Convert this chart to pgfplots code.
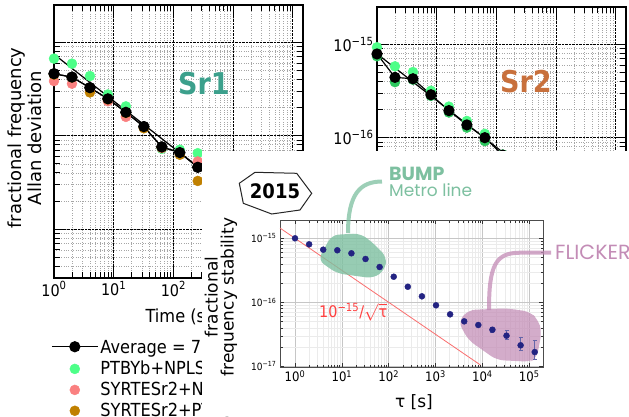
\documentclass[border=0pt]{standalone}
\usepackage{pgfplots}
\pgfplotsset{compat=1.18}
\usepackage{amsmath}
\usepackage{fontspec}
\setmainfont{DejaVu Sans}[FakeStretch=0.9]
\newfontfamily\rotfont{DejaVu Sans}
\newfontfamily\pop{Poppins}
\definecolor{mint}{RGB}{77,255,136}
\definecolor{salmon}{RGB}{250,128,128}
\definecolor{ochre}{RGB}{192,128,0}
\definecolor{darkmint}{RGB}{45,200,95}
\definecolor{srone}{RGB}{60,160,140}
\definecolor{srtwo}{RGB}{200,112,60}
\definecolor{navyd}{RGB}{35,35,130}
\definecolor{bump}{RGB}{125,192,160}
\definecolor{flick}{RGB}{195,140,182}
\definecolor{redl}{RGB}{250,110,110}
\pgfplotsset{legend image code/.code={\draw[mark repeat=2,mark phase=2,#1] plot coordinates {(0pt,0pt) (23pt,0pt) (46pt,0pt)};}}
\begin{document}
\begin{tikzpicture}[x=1pt,y=1pt]
\useasboundingbox (0,0) rectangle (629,416);
% ---------------- Sr1 ----------------
\begin{axis}[at={(54pt,138pt)}, anchor=south west,
    xmode=log, ymode=log, scale only axis, width=249pt, height=273pt,
    xmin=1, xmax=14830, ymin=3e-18, ymax=2.5e-15,
    axis line style={line width=1.6pt},
    tick align=inside, major tick length=11pt, minor tick length=6pt,
    tick style={black, line width=0.8pt},
    grid=both, major grid style={densely dotted, black, line width=0.6pt},
    minor grid style={dotted, gray!70, line width=0.5pt},
    xtick={1,10,100,1000,10000},
    xticklabels={10\textsuperscript{0},10\textsuperscript{1},10\textsuperscript{2},10\textsuperscript{3},10\textsuperscript{4}},
    ytick={1e-18,1e-17,1e-16,1e-15}, yticklabels={},
    ticklabel style={font=\fontsize{16}{16}\selectfont},
  xlabel={Time (s)},
  xlabel style={at={(axis description cs:0.5,-0.143)}, anchor=center, font=\fontsize{18}{18}\selectfont},
  ylabel={fractional frequency\\Allan deviation},
  ylabel style={at={(axis description cs:-0.116,0.513)}, anchor=center, align=center, font=\rotfont\fontsize{18}{20}\selectfont},
  legend cell align=left,
  legend style={at={(-0.024,-0.205)}, anchor=north west, draw=none, fill=none, row sep=2pt,
    font=\fontsize{18}{21}\selectfont},
]
\addplot[black, line width=1.2pt, mark=*, mark size=5pt, mark options={fill=black}] coordinates {
(1,4.6e-16) (2,4.23e-16) (4,3.26e-16) (8,2.48e-16) (16,1.78e-16) (32,1.25e-16) (64,7.57e-17) (128,6.6e-17) (256,4.6e-17)};
\addlegendentry{Average = 7.4×10\textsuperscript{−16}/√τ}
\addplot[only marks, mark=*, mark size=5pt, mark options={draw=mint, fill=mint}] coordinates {
(1,6.68e-16) (2,5.9e-16) (4,4.35e-16) (8,2.76e-16) (16,2.06e-16) (32,1.23e-16) (64,7.24e-17) (128,7.08e-17) (256,6.5e-17)};
\addlegendentry{PTBYb+NPLSr}
\addplot[only marks, mark=*, mark size=5pt, mark options={draw=salmon, fill=salmon}] coordinates {
(1,3.84e-16) (2,3.6e-16) (4,3.05e-16) (8,2.34e-16) (16,1.59e-16) (32,1.22e-16) (64,7.38e-17) (128,6.56e-17) (256,5.3e-17)};
\addlegendentry{SYRTESr2+NPLSr}
\addplot[only marks, mark=*, mark size=5pt, mark options={draw=ochre, fill=ochre}] coordinates {
(1,4.5e-16) (2,4.2e-16) (4,2.9e-16) (8,2.45e-16) (16,1.75e-16) (32,1.2e-16) (64,7.5e-17) (128,6.25e-17) (256,3.28e-17)};
\addlegendentry{SYRTESr2+PTBSr}
\addplot[forget plot, black, line width=1.2pt, mark=*, mark size=5pt, mark options={fill=black}] coordinates {
(1,4.6e-16) (2,4.23e-16) (4,3.26e-16) (8,2.48e-16) (16,1.78e-16) (32,1.25e-16) (64,7.57e-17) (128,6.6e-17) (256,4.6e-17)};
\addplot[forget plot, black, line width=1.2pt] coordinates {(1,7.43e-16) (10000,7.43e-18)};
\end{axis}
\node[text=srone, font=\bfseries\fontsize{30}{30}\selectfont] at (204,332) {Sr1};
% ---------------- Sr2 ----------------
\begin{axis}[at={(377pt,136pt)}, anchor=south west,
    xmode=log, ymode=log, scale only axis, width=249pt, height=273pt,
    xmin=1, xmax=14830, ymin=3e-18, ymax=2.5e-15,
    axis line style={line width=1.6pt},
    tick align=inside, major tick length=11pt, minor tick length=6pt,
    tick style={black, line width=0.8pt},
    grid=both, major grid style={densely dotted, black, line width=0.6pt},
    minor grid style={dotted, gray!70, line width=0.5pt},
    xtick={1,10,100,1000,10000}, xticklabels={},
    ytick={1e-18,1e-17,1e-16,1e-15},
    yticklabels={10\textsuperscript{−18},10\textsuperscript{−17},10\textsuperscript{−16},10\textsuperscript{−15}},
    ticklabel style={font=\fontsize{16}{16}\selectfont},
]
\addplot[only marks, mark=*, mark size=5pt, mark options={draw=mint, fill=mint}] coordinates {
(1,9.28e-16) (2,5.8e-16) (4,5.04e-16) (8,3.18e-16) (16,2.15e-16) (32,1.51e-16) (64,1.1e-16) (128,6.6e-17) (256,4.6e-17)};
\addplot[only marks, mark=*, mark size=5pt, mark options={draw=darkmint, fill=darkmint}] coordinates {
(1,7.43e-16) (2,3.93e-16) (4,4.17e-16) (8,2.8e-16) (16,1.86e-16) (32,1.28e-16) (64,9.2e-17) (128,6.3e-17) (256,4.4e-17)};
\addplot[black, line width=1.2pt, mark=*, mark size=5pt, mark options={fill=black}] coordinates {
(1,7.87e-16) (2,4.42e-16) (4,4.27e-16) (8,2.88e-16) (16,1.95e-16) (32,1.37e-16) (64,1.0e-16) (128,6.52e-17) (256,4.5e-17)};
\addplot[black, line width=1.2pt] coordinates {(1,7.9e-16) (10000,7.9e-18)};
\end{axis}
\node[text=srtwo, font=\bfseries\fontsize{30}{30}\selectfont] at (526,334) {Sr2};
% ---------------- inset ----------------
\fill[white] (202,0) rectangle (629,265);
\node[anchor=base west, inner sep=0, text=bump, font=\pop\bfseries\fontsize{19}{19}\selectfont] at (389,236) {BUMP};
\node[anchor=base west, inner sep=0, text=bump, font=\pop\fontsize{17}{17}\selectfont] at (389,220) {Metro line};
\node[anchor=west, inner sep=0, text=flick, font=\pop\fontsize{20.5}{20.5}\selectfont] at (555,164) {FLICKER};
\draw[gray!30!black, line width=1pt] (239.3,232.7) -- (255,243.7) -- (296.7,242.7) -- (311.7,222.7) -- (300,206) -- (271.7,202) -- (243.3,212.7) -- cycle;
\node[font=\bfseries\fontsize{20}{20}\selectfont] at (275,224.5) {2015};
\node[rotate=90, align=center, font=\rotfont\fontsize{17}{16}\selectfont] at (221,119) {fractional\\frequency stability};
\node[font=\rotfont\fontsize{17}{17}\selectfont] at (414,14) {τ [s]};
\begin{axis}[at={(280pt,49pt)}, anchor=south west, scale only axis, width=263pt, height=147pt,
  xmode=log, ymode=log, xmin=0.478, xmax=1.97e5, ymin=9.75e-18, ymax=1.93e-15,
  clip=false,
  axis line style={gray!60!black, line width=0.8pt},
  tick align=inside, major tick length=4pt, minor tick length=2.5pt,
  tick style={gray!40!black, line width=0.5pt},
  grid=both, major grid style={gray!45, line width=0.5pt}, minor grid style={gray!16, line width=0.4pt},
  xtick={1,10,100,1000,10000,100000},
  xticklabels={10\textsuperscript{0},10\textsuperscript{1},10\textsuperscript{2},10\textsuperscript{3},10\textsuperscript{4},10\textsuperscript{5}},
  ytick={1e-17,1e-16,1e-15},
  yticklabels={10\textsuperscript{−17},10\textsuperscript{−16},10\textsuperscript{−15}},
  xticklabel style={font=\fontsize{13}{13}\selectfont},
  yticklabel style={font=\fontsize{10}{10}\selectfont},
]
\addplot[redl, line width=0.8pt] coordinates {(0.478,1.446e-15) (9000,1.054e-17)};
\fill[bump, opacity=0.8, rounded corners=7pt] (rel axis cs:0.1445,0.7279) -- (rel axis cs:0.1966,0.898) -- (rel axis cs:0.3042,0.9095) -- (rel axis cs:0.3487,0.8524) -- (rel axis cs:0.4057,0.7503) -- (rel axis cs:0.3992,0.6599) -- (rel axis cs:0.3548,0.6034) -- (rel axis cs:0.2156,0.6374) -- cycle;
\fill[flick, opacity=0.72, rounded corners=7pt] (rel axis cs:0.678,0.3082) -- (rel axis cs:0.716,0.3878) -- (rel axis cs:0.862,0.3993) -- (rel axis cs:0.9506,0.3762) -- (rel axis cs:0.9821,0.3197) -- (rel axis cs:0.995,0.2401) -- (rel axis cs:0.976,0.0592) -- (rel axis cs:0.9506,0.0361) -- (rel axis cs:0.824,0.0476) -- (rel axis cs:0.716,0.1837) -- cycle;
\draw[bump, opacity=0.75, line width=4pt] (rel axis cs:0.2586,0.9116) .. controls (rel axis cs:0.2586,1.1769) and (rel axis cs:0.3042,1.2619) .. (rel axis cs:0.3878,1.2619);
\draw[flick, opacity=0.75, line width=4pt] (rel axis cs:0.7947,0.3878) .. controls (rel axis cs:0.7947,0.6871) and (rel axis cs:0.8175,0.7776) .. (rel axis cs:0.9125,0.7776) -- (rel axis cs:1.0304,0.7776);
\addplot[only marks, mark=*, mark size=3pt, mark options={draw=navyd, fill=navyd}] coordinates {
(1,1.0e-15) (2,8.05e-16) (4,6.64e-16) (8,6.5e-16) (16,5.83e-16) (32,4.75e-16) (64,3.56e-16) (128,2.51e-16) (256,1.75e-16) (512,1.24e-16) (1024,8.98e-17) (2048,6.49e-17) (4096,5.04e-17)};
\addplot[only marks, mark=*, mark size=3pt, mark options={draw=navyd, fill=navyd},
  error bars/.cd, y dir=both, y explicit, error bar style={navyd!70, line width=0.8pt},
  error mark options={rotate=90, mark size=2pt, navyd!70}] coordinates {
(8192,4.42e-17) += (0,0.25e-17) -= (0,0.25e-17)
(16384,3.73e-17) += (0,0.38e-17) -= (0,0.35e-17)
(32768,3.01e-17) += (0,0.69e-17) -= (0,0.37e-17)
(65536,2.13e-17) += (0,0.74e-17) -= (0,0.35e-17)
(131072,1.67e-17) += (0,0.9e-17) -= (0,0.37e-17)};
\end{axis}
\node[anchor=west, inner sep=0, text=red!75, font=\fontsize{16}{16}\selectfont] at (319,104) {10\textsuperscript{−15}/$\sqrt{\text{τ}}$};
\end{tikzpicture}
\end{document}
